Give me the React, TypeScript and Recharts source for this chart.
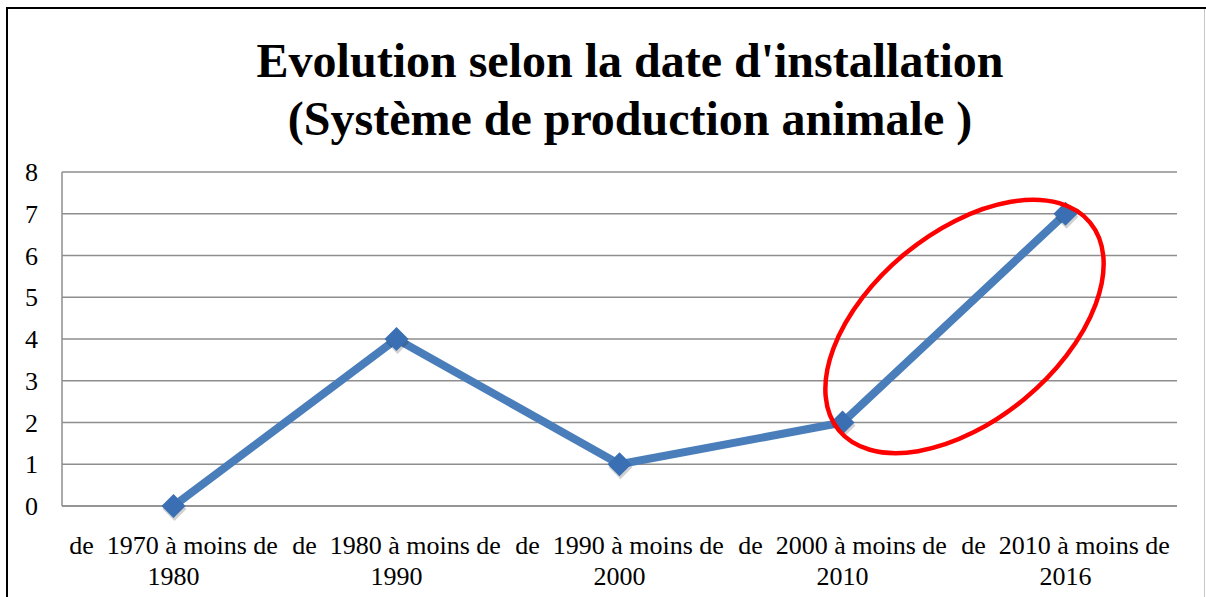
import React from "react";
import {
  LineChart,
  Line,
  XAxis,
  YAxis,
  CartesianGrid,
  ReferenceDot,
} from "recharts";

// categories (installation date ranges) and counts
const categories = [
  "de  1970 à moins de 1980",
  "de  1980 à moins de 1990",
  "de  1990 à moins de 2000",
  "de  2000 à moins de 2010",
  "de  2010 à moins de 2016",
];
const counts = [0, 4, 1, 2, 7];
const yTicks = [0, 1, 2, 3, 4, 5, 6, 7, 8];
const titleLines = [
  "Evolution selon la date d'installation",
  "(Système de production animale )",
];

const data = categories.map((c, i) => ({ cat: c, value: counts[i] }));

const SERIF = "'Liberation Serif', 'Times New Roman', serif";

function XTick({ x, y, payload }: any) {
  const label: string = payload.value;
  const cut = label.lastIndexOf(" ");
  return (
    <g>
      <text
        x={x}
        y={y + 40}
        textAnchor="middle"
        fontFamily={SERIF}
        fontSize={26}
        fill="#000"
        style={{ whiteSpace: "pre" }}
      >
        {label.slice(0, cut)}
      </text>
      <text
        x={x}
        y={y + 71}
        textAnchor="middle"
        fontFamily={SERIF}
        fontSize={26}
        fill="#000"
      >
        {label.slice(cut + 1)}
      </text>
    </g>
  );
}

function Diamond({ cx, cy }: any) {
  if (cx == null || cy == null) return null;
  const r = 12;
  const pts = (dx: number, dy: number) =>
    `${cx + dx},${cy - r + dy} ${cx + r + dx},${cy + dy} ${cx + dx},${cy + r + dy} ${cx - r + dx},${cy + dy}`;
  return (
    <g>
      <polygon points={pts(1, 3)} fill="#000" opacity={0.18} />
      <polygon points={pts(0, 0)} fill="#3A6FB3" />
    </g>
  );
}

function Ring({ cx, cy }: any) {
  if (cx == null || cy == null) return null;
  const ex = cx - 101;
  return (
    <ellipse
      cx={ex}
      cy={cy}
      rx={163}
      ry={94}
      transform={`rotate(-39.6 ${ex} ${cy})`}
      fill="none"
      stroke="#FF0000"
      strokeWidth={4.5}
    />
  );
}

export default function App() {
  return (
    <div
      style={{
        position: "absolute",
        top: 0,
        left: 0,
        width: 1206,
        height: 597,
        background: "#fff",
        overflow: "hidden",
      }}
    >
      {/* frame */}
      <div
        style={{
          position: "absolute",
          left: 6,
          top: 7,
          width: 1210,
          height: 700,
          borderTop: "2px solid #000",
          borderLeft: "2px solid #000",
        }}
      />
      <div
        style={{
          position: "absolute",
          left: 1204,
          top: 9,
          width: 1,
          height: 600,
          background: "#c8c8c8",
        }}
      />

      {/* title */}
      {titleLines.map((t, i) => (
        <div
          key={i}
          style={{
            position: "absolute",
            left: 0,
            width: 1260,
            top: 33 + i * 58,
            textAlign: "center",
            fontFamily: SERIF,
            fontWeight: "bold",
            fontSize: 48,
            lineHeight: "56px",
            whiteSpace: "pre",
          }}
        >
          {t}
        </div>
      ))}

      <div style={{ position: "absolute", left: 0, top: 0 }}>
        <LineChart
          width={1206}
          height={597}
          data={data}
          margin={{ top: 172, right: 29, bottom: 31, left: 22 }}
        >
          <CartesianGrid
            vertical={false}
            stroke="#8e8e8e"
            strokeWidth={1.5}
          />
          <XAxis
            dataKey="cat"
            axisLine={{ stroke: "#8e8e8e", strokeWidth: 1.5 }}
            tickLine={false}
            height={60}
            interval={0}
            padding={{ left: 111.5, right: 111.5 }}
            tick={<XTick />}
          />
          <YAxis
            width={40}
            domain={[0, 8]}
            ticks={yTicks}
            interval={0}
            axisLine={{ stroke: "#8e8e8e", strokeWidth: 1.5 }}
            tickLine={false}
            tickSize={0}
            tickMargin={24}
            tick={{ fill: "#000", fontSize: 26, fontFamily: SERIF }}
          />
          <Line
            dataKey="value"
            type="linear"
            stroke="#4A7EBB"
            strokeWidth={8}
            strokeLinejoin="round"
            dot={<Diamond />}
            activeDot={false}
            isAnimationActive={false}
          />
          <ReferenceDot
            x={categories[4]}
            y={4.3}
            shape={<Ring />}
            ifOverflow="visible"
          />
        </LineChart>
      </div>
    </div>
  );
}
